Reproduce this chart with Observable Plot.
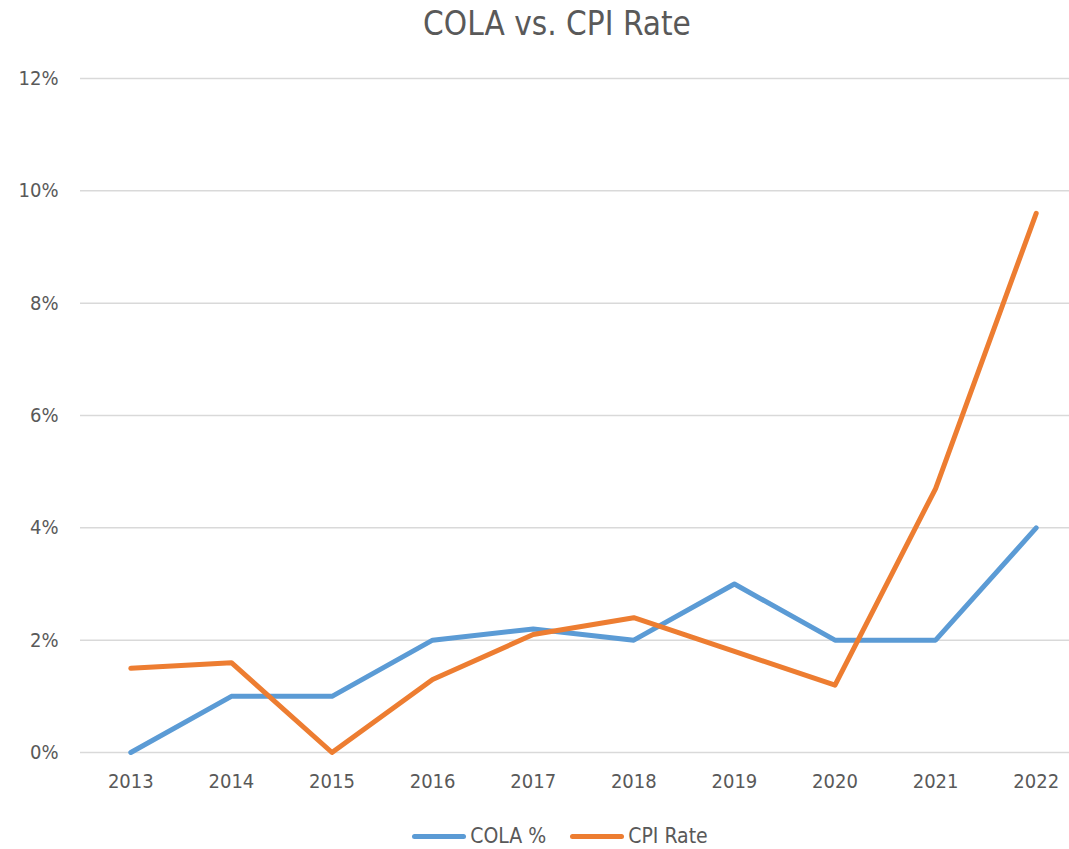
<!DOCTYPE html>
<html>
<head>
<meta charset="utf-8">
<script src="https://cdn.jsdelivr.net/npm/d3@7"></script>
<script src="https://cdn.jsdelivr.net/npm/@observablehq/plot@0.6"></script>
<style>
  html, body { margin: 0; padding: 0; background: #fff; overflow: hidden; }
  #wrap { position: relative; width: 1069px; height: 849px; font-family: "Liberation Sans Narrow", "DejaVu Sans Condensed", "Roboto", sans-serif; color: #595959; }
  #title { position: absolute; left: 0; width: 1114px; top: 4px; text-align: center; font-size: 33px; color: #595959; }
  #legend { position: absolute; left: 0; width: 1120px; top: 824px; display: flex; justify-content: center; align-items: center; font-size: 21px; color: #595959; }
  .sw { display: inline-block; width: 54px; height: 5px; border-radius: 3px; margin-right: 4px; }
  .item { display: inline-flex; align-items: center; margin: 0 12px; }
  svg { position: absolute; left: 0; top: 0; }
</style>
</head>
<body>
<div id="wrap">
  <div id="title">COLA vs. CPI Rate</div>
  <div id="legend"></div>
</div>
<script>
const years = [2013, 2014, 2015, 2016, 2017, 2018, 2019, 2020, 2021, 2022];
const cola = [0, 1, 1, 2, 2.2, 2, 3, 2, 2, 4];
const cpi = [1.5, 1.6, 0, 1.3, 2.1, 2.4, 1.8, 1.2, 4.7, 9.6];
const seriesNames = ["COLA %", "CPI Rate"];
const seriesColors = ["#5B9BD5", "#ED7D31"];
const yTicks = [0, 2, 4, 6, 8, 10, 12];

const rows = [];
years.forEach((yr, i) => rows.push({year: yr, value: cola[i], series: seriesNames[0]}));
years.forEach((yr, i) => rows.push({year: yr, value: cpi[i], series: seriesNames[1]}));

const chart = Plot.plot({
  width: 1069,
  height: 849,
  marginTop: 78,
  marginBottom: 97,
  marginLeft: 80,
  marginRight: 0,
  style: {fontFamily: '"Liberation Sans Narrow", "DejaVu Sans Condensed", sans-serif', fontSize: "20px", color: "#595959", overflow: "hidden"},
  x: {domain: [2012.5, 2022.5], range: [80, 1086]},
  y: {domain: [0, 12], range: [752, 78]},
  color: {domain: seriesNames, range: seriesColors},
  marks: [
    Plot.ruleY(yTicks, {y: d => d, x1: 2012.5, x2: 2022.5, stroke: "#d9d9d9", strokeWidth: 1.5}),
    Plot.axisY(yTicks, {tickSize: 0, tickPadding: 22, tickFormat: d => d + "%", fill: "#595959", fontSize: 20, label: null}),
    Plot.axisX(years, {tickSize: 0, tickPadding: 21, tickFormat: d => String(d), fill: "#595959", fontSize: 20, label: null}),
    Plot.line(rows, {x: "year", y: "value", stroke: "series", z: "series", strokeWidth: 5, strokeLinecap: "round", strokeLinejoin: "round"})
  ]
});
document.getElementById("wrap").prepend(chart);

const legend = document.getElementById("legend");
seriesNames.forEach((name, i) => {
  const item = document.createElement("span");
  item.className = "item";
  const sw = document.createElement("span");
  sw.className = "sw";
  sw.style.background = seriesColors[i];
  item.appendChild(sw);
  item.appendChild(document.createTextNode(name));
  legend.appendChild(item);
});
</script>
</body>
</html>
